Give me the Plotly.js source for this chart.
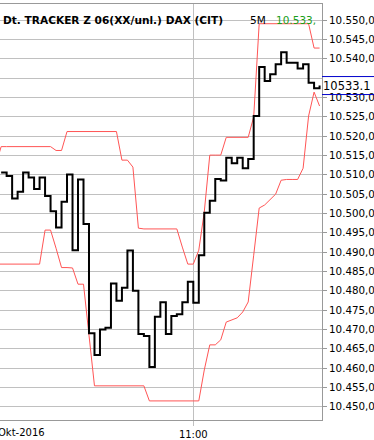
<!DOCTYPE html>
<html>
<head>
<meta charset="utf-8">
<script src="https://cdn.plot.ly/plotly-3.0.1.min.js"></script>
<style>html,body{margin:0;padding:0;background:#fff;}#chart{width:374px;height:440px;}</style>
</head>
<body>
<div id="chart"></div>
<script>
const day = '2016-10-14';
const times = ['08:00','08:05','08:10','08:15','08:20','08:25','08:30','08:35','08:40','08:45',
  '08:50','08:55','09:00','09:05','09:10','09:15','09:20','09:25','09:30','09:35',
  '09:40','09:45','09:50','09:55','10:00','10:05','10:10','10:15','10:20','10:25',
  '10:30','10:35','10:40','10:45','10:50','10:55','11:00','11:05','11:10','11:15',
  '11:20','11:25','11:30','11:35','11:40','11:45','11:50','11:55','12:00','12:05',
  '12:10','12:15','12:20','12:25','12:30','12:35','12:40','12:45','12:50','12:55'];
const price = [null, 10510.6, 10509.7, 10503.9, 10505.6, 10510.6, 10509.3, 10506.3, 10509.3, 10504.5,
  10500.6, 10496.4, 10503.0, 10510.1, 10490.5, 10508.8, 10497.3, 10469.0, 10463.4, 10470.0,
  10470.4, 10481.9, 10477.4, 10480.8, 10490.4, 10480.0, 10468.8, 10468.3, 10460.3, 10473.3,
  10477.0, 10468.8, 10473.5, 10473.9, 10477.0, 10482.3, 10476.9, 10489.2, 10500.2, 10503.3,
  10508.9, 10508.5, 10514.4, 10513.0, 10514.4, 10511.7, 10514.1, 10525.2, 10537.9, 10534.3,
  10536.0, 10538.6, 10541.7, 10539.0, 10539.0, 10537.5, 10538.6, 10533.8, 10532.4, 10533.1];
const upperBand = [10512.5, 10517.3, 10517.3, 10517.3, 10517.3, 10517.3, 10517.3, 10517.3, 10517.3, 10517.3,
  10517.3, 10516.3, 10516.3, 10521.2, 10521.2, 10521.2, 10521.2, 10521.2, 10521.2, 10521.2,
  10521.2, 10521.2, 10521.2, 10513.8, 10513.8, 10512.0, 10496.2, 10496.0, 10496.0, 10496.0,
  10496.0, 10496.0, 10496.0, 10496.0, 10491.3, 10486.9, 10486.9, 10490.5, 10500.4, 10515.1,
  10515.1, 10515.1, 10519.7, 10519.7, 10519.7, 10519.7, 10519.7, 10525.0, 10549.1, 10549.1,
  10549.1, 10549.1, 10549.1, 10549.1, 10549.1, 10549.1, 10549.1, 10549.1, 10542.8, 10542.8];
const lowerBand = [10486.9, 10486.9, 10486.9, 10486.9, 10486.9, 10486.9, 10486.9, 10486.9, 10486.9, 10495.7,
  10495.7, 10491.0, 10486.0, 10486.0, 10485.9, 10481.7, 10481.7, 10468.5, 10455.4, 10455.4,
  10455.4, 10455.4, 10455.4, 10455.4, 10455.4, 10455.4, 10455.4, 10455.4, 10451.5, 10451.5,
  10451.5, 10451.5, 10451.5, 10451.5, 10451.5, 10451.5, 10451.5, 10451.5, 10459.5, 10466.0,
  10466.0, 10467.3, 10471.9, 10472.4, 10473.0, 10474.5, 10477.1, 10489.2, 10501.4, 10502.2,
  10503.5, 10505.0, 10508.6, 10508.8, 10508.8, 10508.8, 10511.7, 10525.2, 10531.4, 10527.8];
const yTickVals = [10450, 10455, 10460, 10465, 10470, 10475, 10480, 10485, 10490, 10495, 10500,
  10505, 10510, 10515, 10520, 10525, 10530, 10535, 10540, 10545, 10550];
// the 10.535 label sits under the current-price box in the reference, so it is left blank
const yTickText = ['10.450,0','10.455,0','10.460,0','10.465,0','10.470,0','10.475,0','10.480,0','10.485,0',
  '10.490,0','10.495,0','10.500,0','10.505,0','10.510,0','10.515,0','10.520,0','10.525,0','10.530,0',
  '','10.540,0','10.545,0','10.550,0'];
const xTickVals = ['11:00'];
const xTickText = ['11:00'];
const titleText = 'Dt. TRACKER Z 06(XX/unl.) DAX (CIT)';
const periodText = '5M';
const lastText = '10.533,';
const priceLabel = '10533.1';
const dateLabel = 'Okt-2016';

const xs = times.map(t => day + ' ' + t);
const lastPrice = price[price.length - 1];
const red = '#ff5555';

const traces = [
  {x: xs, y: upperBand, type: 'scatter', mode: 'lines', line: {color: red, width: 1}, hoverinfo: 'skip'},
  {x: xs, y: lowerBand, type: 'scatter', mode: 'lines', line: {color: red, width: 1}, hoverinfo: 'skip'},
  {x: xs, y: price, type: 'scatter', mode: 'lines', line: {color: '#000', width: 2, shape: 'hv'}, hoverinfo: 'skip'}
];

const layout = {
  width: 374, height: 440,
  margin: {l: 0, r: 52, t: 4, b: 20, pad: 0},
  paper_bgcolor: '#fff', plot_bgcolor: '#fff',
  showlegend: false,
  font: {family: 'DejaVu Sans', size: 10, color: '#000'},
  xaxis: {
    type: 'date',
    range: [day + ' 08:03:57', day + ' 12:57:13'],
    tickvals: xTickVals.map(t => day + ' ' + t), ticktext: xTickText,
    showgrid: true, gridcolor: '#c0c0c0', gridwidth: 1,
    showline: true, linecolor: '#999', linewidth: 1, mirror: true,
    ticks: 'outside', ticklen: 5, tickcolor: '#c0c0c0',
    tickfont: {family: 'DejaVu Sans', size: 10, color: '#000'},
    zeroline: false, fixedrange: true
  },
  yaxis: {
    side: 'right',
    range: [10446.56, 10554.2],
    tickvals: yTickVals, ticktext: yTickText,
    showgrid: true, gridcolor: '#c0c0c0', gridwidth: 1,
    showline: true, linecolor: '#999', linewidth: 1,
    ticks: 'outside', ticklen: 4, tickcolor: '#999',
    tickfont: {family: 'DejaVu Sans', size: 10.3, color: '#000'},
    zeroline: false, fixedrange: true
  },
  shapes: [
    {type: 'line', xref: 'paper', x0: 1, x1: 1.3, yref: 'y', ysizemode: 'pixel', yanchor: lastPrice,
     y0: 9, y1: 9, line: {color: '#0000cc', width: 1}, layer: 'above'},
    {type: 'line', xref: 'paper', x0: 1, x1: 1.3, yref: 'y', ysizemode: 'pixel', yanchor: lastPrice,
     y0: -9, y1: -9, line: {color: '#0000cc', width: 1}, layer: 'above'}
  ],
  annotations: [
    {text: '<b>' + titleText + '</b>', xref: 'paper', yref: 'paper', x: 0, y: 1, xanchor: 'left', yanchor: 'middle',
     xshift: 1, yshift: -16, showarrow: false, font: {family: 'DejaVu Sans', size: 10.6, color: '#000'}},
    {text: periodText, xref: 'paper', yref: 'paper', x: 248 / 322, y: 1, xanchor: 'left', yanchor: 'middle',
     yshift: -16, showarrow: false, font: {family: 'DejaVu Sans', size: 10.5, color: '#000'}},
    {text: lastText, xref: 'paper', yref: 'paper', x: 274 / 322, y: 1, xanchor: 'left', yanchor: 'middle',
     yshift: -16, showarrow: false, font: {family: 'DejaVu Sans', size: 10.5, color: '#1a9e1a'}},
    {text: priceLabel, xref: 'paper', yref: 'y', x: 1, y: lastPrice, xanchor: 'left', yanchor: 'middle',
     xshift: 1, showarrow: false, bgcolor: '#fff', borderpad: 0, borderwidth: 0, width: 56, height: 15,
     align: 'left', font: {family: 'DejaVu Sans', size: 11.5, color: '#000'}},
    {text: dateLabel, xref: 'paper', yref: 'paper', x: 0, y: 0, xanchor: 'left', yanchor: 'top',
     xshift: -4, yshift: -5, showarrow: false, font: {family: 'DejaVu Sans', size: 10, color: '#000'}}
  ]
};

Plotly.newPlot('chart', traces, layout, {staticPlot: true, displayModeBar: false});
</script>
</body>
</html>
